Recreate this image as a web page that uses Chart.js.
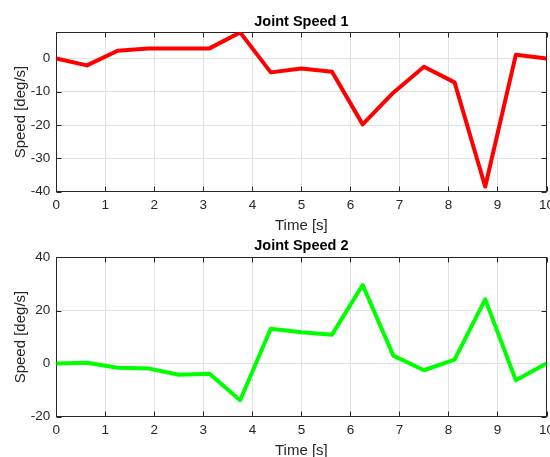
<!DOCTYPE html>
<html>
<head>
<meta charset="utf-8">
<title>Joint Speed</title>
<script src="https://cdn.jsdelivr.net/npm/chart.js@4.4.1/dist/chart.umd.min.js"></script>
<style>
  html, body { margin: 0; padding: 0; background: #fff; overflow: hidden; width: 550px; height: 457px; }
  .panel { position: absolute; left: 0; width: 550px; height: 240px; }
  #p1 { top: 0; }
  #p2 { top: 225px; }
</style>
</head>
<body>
<div class="panel" id="p1"><canvas id="c1" width="550" height="240"></canvas></div>
<div class="panel" id="p2"><canvas id="c2" width="550" height="240"></canvas></div>
<script>
// Sample times [s]
const times = [0, 0.625, 1.25, 1.875, 2.5, 3.125, 3.75, 4.375, 5, 5.625, 6.25, 6.875, 7.5, 8.125, 8.75, 9.375, 10];
// Joint speeds [deg/s]
const speed1 = [0, -2.1, 2.3, 3.0, 3.0, 3.0, 7.8, -4.2, -3.0, -4.0, -19.8, -10.3, -2.5, -7.2, -38.5, 1.1, 0];
const speed2 = [0, 0.3, -1.6, -1.8, -4.2, -3.8, -13.8, 13.1, 11.8, 10.9, 29.6, 3.0, -2.5, 1.5, 24.2, -6.3, 0];
// Tick values
const timeTicks = [0, 1, 2, 3, 4, 5, 6, 7, 8, 9, 10];
const speed1Ticks = [-40, -30, -20, -10, 0];
const speed2Ticks = [-20, 0, 20, 40];

Chart.defaults.font.family = "'Liberation Sans', Arial, Helvetica, sans-serif";

const AXIS_COLOR = '#262626';
const GRID_COLOR = '#e2e2e2';

// Closed box around the plot area with inward tick marks on all four sides
const axesBox = {
  id: 'axesBox',
  beforeDatasetsDraw(chart) {
    const { ctx, chartArea: a, scales: { x, y } } = chart;
    const L = 5;
    const left = Math.round(a.left) + 0.5, right = Math.round(a.right) - 0.5;
    const top = Math.round(a.top) + 0.5, bottom = Math.round(a.bottom) - 0.5;
    ctx.save();
    ctx.strokeStyle = AXIS_COLOR;
    ctx.lineWidth = 1;
    ctx.beginPath();
    x.ticks.forEach(t => {
      const px = Math.round(x.getPixelForValue(t.value)) + 0.5;
      ctx.moveTo(px, bottom); ctx.lineTo(px, bottom - L);
      ctx.moveTo(px, top); ctx.lineTo(px, top + L);
    });
    y.ticks.forEach(t => {
      const py = Math.round(y.getPixelForValue(t.value)) + 0.5;
      ctx.moveTo(left, py); ctx.lineTo(left + L, py);
      ctx.moveTo(right, py); ctx.lineTo(right - L, py);
    });
    ctx.stroke();
    ctx.strokeRect(left, top, right - left, bottom - top);
    ctx.restore();
  }
};

function makeChart(canvasId, titleText, values, color, yMin, yMax, yTicks, titlePad) {
  return new Chart(document.getElementById(canvasId), {
    type: 'line',
    data: {
      datasets: [{
        data: times.map((t, i) => ({ x: t, y: values[i] })),
        borderColor: color,
        borderWidth: 4,
        borderJoinStyle: 'round',
        pointRadius: 0,
        tension: 0,
        fill: false
      }]
    },
    options: {
      responsive: false,
      animation: false,
      layout: { padding: { left: 0, right: 3.5, top: 0, bottom: 0 } },
      plugins: {
        legend: { display: false },
        tooltip: { enabled: false },
        title: {
          display: true,
          text: titleText,
          fullSize: false,
          color: '#000',
          font: { size: 14.5, weight: 'bold' },
          padding: titlePad
        }
      },
      scales: {
        x: {
          type: 'linear',
          min: 0,
          max: 10,
          border: { display: false },
          grid: { color: GRID_COLOR, drawTicks: false },
          ticks: { color: AXIS_COLOR, font: { size: 13.5 }, padding: 5, maxRotation: 0 },
          title: { display: true, text: 'Time [s]', color: AXIS_COLOR, font: { size: 15 }, padding: { top: 0, bottom: 5 } },
          afterBuildTicks(s) { s.ticks = timeTicks.map(v => ({ value: v })); },
          afterFit(s) { s.height = 48.3; s.paddingLeft = 0; s.paddingRight = 0; }
        },
        y: {
          type: 'linear',
          min: yMin,
          max: yMax,
          border: { display: false },
          grid: { color: GRID_COLOR, drawTicks: false },
          ticks: { color: AXIS_COLOR, font: { size: 13.5 }, padding: 6 },
          title: { display: true, text: 'Speed [deg/s]', color: AXIS_COLOR, font: { size: 15 }, padding: { top: 12, bottom: 0 } },
          afterBuildTicks(s) { s.ticks = yTicks.map(v => ({ value: v })); },
          afterFit(s) { s.width = 56.3; s.paddingTop = 0; s.paddingBottom = 0; }
        }
      }
    },
    plugins: [axesBox]
  });
}

makeChart('c1', 'Joint Speed 1', speed1, '#ff0000', -40, 7.8, speed1Ticks, { top: 13, bottom: 2 });
makeChart('c2', 'Joint Speed 2', speed2, '#00ff00', -20, 40, speed2Ticks, { top: 12, bottom: 3 });
</script>
</body>
</html>
